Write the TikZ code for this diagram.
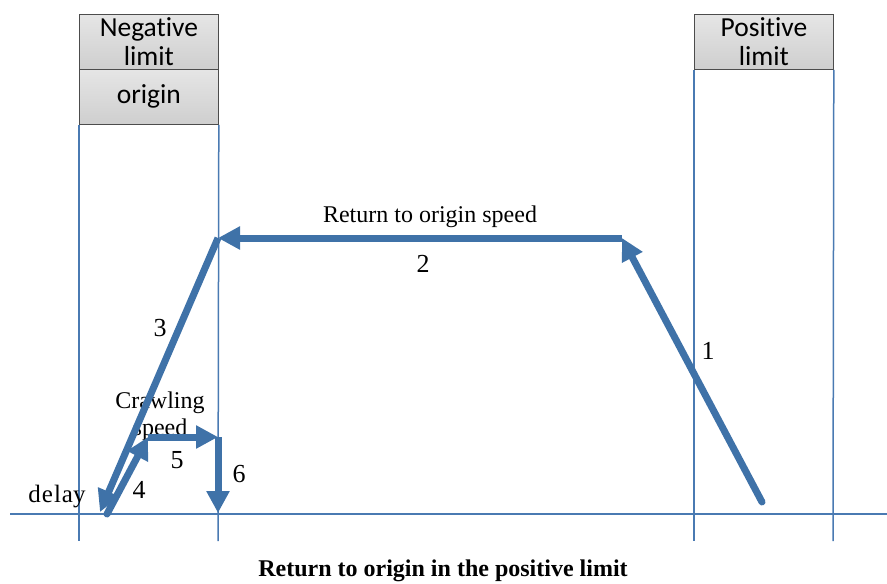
\documentclass[tikz,border=0pt]{standalone}
\usepackage{fontspec}
\setmainfont{Liberation Serif}
\newfontfamily\boxfont[Ligatures=NoCommon]{Carlito}
\usetikzlibrary{arrows.meta}
\definecolor{pathblue}{HTML}{3F72A8}
\definecolor{thinblue}{HTML}{4A7AB2}
\tikzset{
  limitbox/.style={draw=black!70, line width=0.8pt, top color=black!10, bottom color=black!19,
    minimum width=139pt, minimum height=55pt, inner sep=0pt, anchor=north west,
    font=\boxfont\fontsize{27.5}{29}\selectfont, align=center},
  guide/.style={draw=thinblue, line width=1.5pt},
  move/.style={draw=pathblue, line width=7pt, -{Triangle[length=22pt,width=22pt]}},
  lbl/.style={font=\fontsize{24}{26}\selectfont, inner sep=1pt},
  numlbl/.style={font=\fontsize{26}{28}\selectfont, inner sep=1pt},
}
\begin{document}
\begin{tikzpicture}[x=1pt,y=-1pt]
\useasboundingbox (0,0) rectangle (887,584);
% boxes
\node[limitbox] (neg) at (79,14) {Negative\\[0pt]limit};
\node[limitbox] (org) at (79,69) {origin};
\node[limitbox] (pos) at (694,14) {Positive\\[0pt]limit};
% guide lines
\coordinate (gA) at (79,541);
\coordinate (gB) at (218,541);
\coordinate (gC) at (694,541);
\coordinate (gD) at (833,541);
\draw[guide] (org.south west) -- (gA);
\draw[guide] (org.south east) -- (gB);
\draw[guide] (pos.south west) -- (gC);
\draw[guide] (pos.south east) -- (gD);
\coordinate (axL) at (10,514);
\coordinate (axR) at (887,514);
\draw[guide] (axL) -- (axR);
% labels (under the moves)
\node[lbl] (t2) at (430,217) {Return to origin speed};
\node[numlbl] (n2) at (423,264) {2};
\node[numlbl] (n1) at (708,351) {1};
\node[numlbl] (n3) at (160,328) {3};
\node[lbl, align=center, font=\fontsize{24}{27}\selectfont] (crawl) at (160,416) {Crawling\\speed};
\node[numlbl] (n5) at (177,460) {5};
\node[numlbl] (n4) at (139,490) {4};
\node[numlbl] (n6) at (239,474) {6};
\node[lbl, font=\fontsize{25}{27}\selectfont] (delay) at (57,497) {d\kern1pt e\kern1pt l\kern1pt ay};
\node[lbl, font=\bfseries\fontsize{24}{26}\selectfont] (cap) at (443,571) {Return to origin in the positive limit};
% path points
\coordinate (p0) at (762,502);
\coordinate (p1) at (622,238);
\coordinate (p2) at (218,238);
\coordinate (p3) at (100,512);
\coordinate (p4) at (107,514);
\coordinate (p5) at (148,437);
\coordinate (p6) at (218,437);
\coordinate (p7) at (218,513);
\draw[move, line cap=round] (p0) -- (p1);
\draw[move] (p1) -- (p2);
\draw[move] (p2) -- (p3);
\draw[move, line cap=round] (p4) -- (p5);
\draw[move] (p5) -- (p6);
\draw[move] (p6) -- (p7);
\end{tikzpicture}
\end{document}
